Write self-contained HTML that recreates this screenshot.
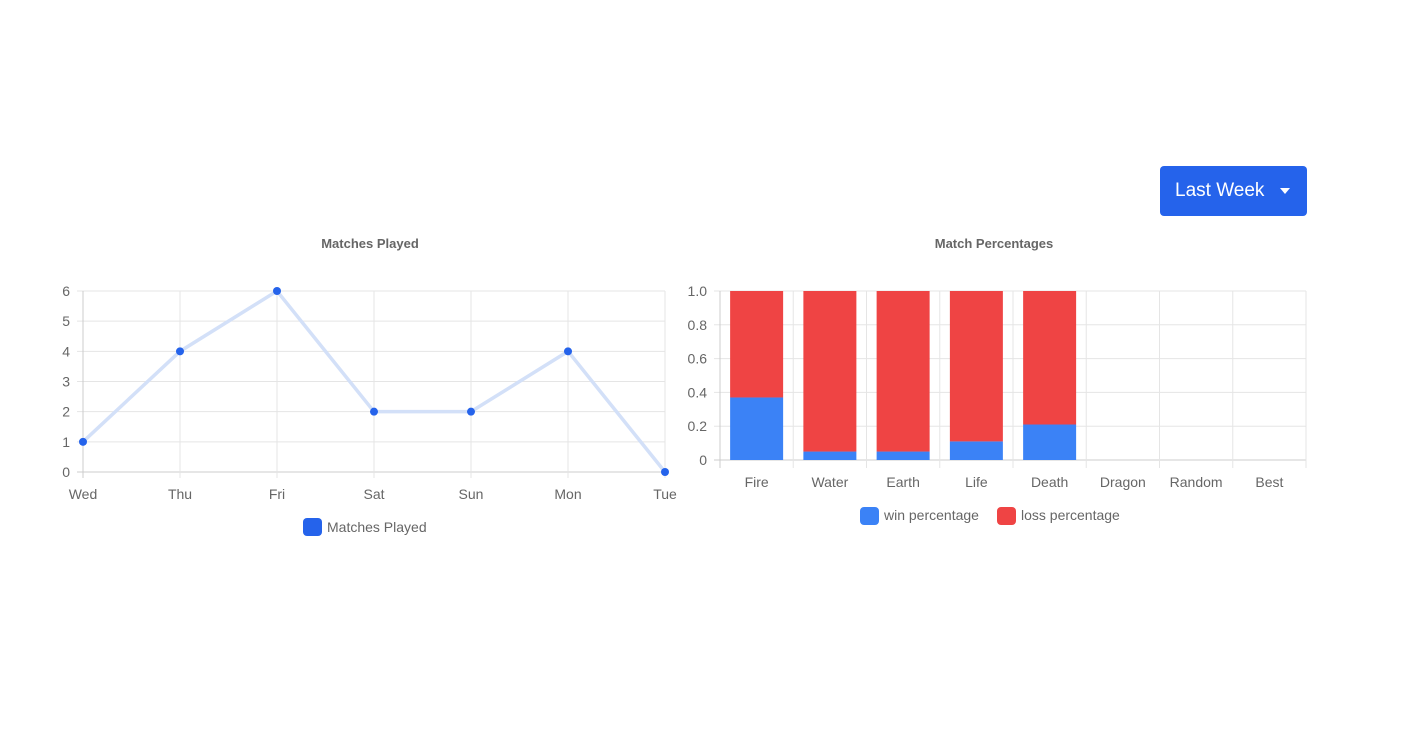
<!DOCTYPE html>
<html><head><meta charset="utf-8"><style>
body{margin:0;width:1420px;height:742px;background:#fff;font-family:"Liberation Sans",sans-serif;position:relative;overflow:hidden}
#btn{position:absolute;left:1160px;top:166px;width:147px;height:50px;background:#2563eb;border-radius:4px;color:#fff;font-size:19px;line-height:50px;box-sizing:border-box;padding-left:15px}
#btn .caret{position:absolute;left:120px;top:22px;width:0;height:0;border-left:5px solid transparent;border-right:5px solid transparent;border-top:6px solid #fff}
svg{position:absolute;left:0;top:0}
</style></head><body>
<div id="btn">Last Week<span class="caret"></span></div>
<svg width="1420" height="742" id="svg"></svg>
<script>
const lineCats=["Wed","Thu","Fri","Sat","Sun","Mon","Tue"];
const lineVals=[1,4,6,2,2,4,0];
const lineTicks=[0,1,2,3,4,5,6];
const barCats=["Fire","Water","Earth","Life","Death","Dragon","Random","Best"];
const winVals=[0.37,0.05,0.05,0.11,0.21,0,0,0];
const lossVals=[0.63,0.95,0.95,0.89,0.79,0,0,0];
const barTicks=[0,0.2,0.4,0.6,0.8,1.0];
const barTickLabels=["0","0.2","0.4","0.6","0.8","1.0"];

const svg=document.getElementById('svg');
const NS="http://www.w3.org/2000/svg";
function mk(t,a,txt){const e=document.createElementNS(NS,t);for(const k in a)e.setAttribute(k,a[k]);if(txt!=null)e.textContent=txt;svg.appendChild(e);return e;}
const grid="#e5e5e5",txtc="#666";

// Line chart
const lx0=83,lx1=665,ly0=472,ly1=291;
const lx=i=>lx0+i*(lx1-lx0)/(lineCats.length-1);
const ly=v=>ly0-v*(ly0-ly1)/6;
let t=mk('text',{x:370,y:248,'text-anchor':'middle','font-size':13,'font-weight':'bold',fill:txtc},'Matches Played');

lineTicks.forEach(v=>{
 let g=mk('line',{x1:lx0-6,x2:lx1,y1:ly(v),y2:ly(v),stroke:v===0?'#ccc':grid});
 
 let l=mk('text',{x:lx0-13,y:ly(v)+5,'text-anchor':'end','font-size':14,fill:txtc},v);
 
});
lineCats.forEach((c,i)=>{
 let g=mk('line',{x1:lx(i),x2:lx(i),y1:ly1,y2:ly0+6,stroke:i===0?'#ccc':grid});
 
 let l=mk('text',{x:lx(i),y:499,'text-anchor':'middle','font-size':14,fill:txtc},c);
 
});
let pl=mk('polyline',{points:lineVals.map((v,i)=>lx(i)+','+ly(v)).join(' '),fill:'none',stroke:'#d3e0f8','stroke-width':3.5});

lineVals.forEach((v,i)=>{
 let p=mk('circle',{cx:lx(i),cy:ly(v),r:4,fill:'#2563eb'});
 
});
let lg=mk('rect',{x:303,y:518,width:19,height:18,rx:4,fill:'#2563eb'});

t=mk('text',{x:327,y:532,'font-size':14,fill:txtc},'Matches Played');


// Bar chart
const bx0=720,bx1=1306,by0=460,by1=291;
const bw=(bx1-bx0)/barCats.length;
const by=v=>by0-v*(by0-by1);
t=mk('text',{x:994,y:248,'text-anchor':'middle','font-size':13,'font-weight':'bold',fill:txtc},'Match Percentages');

barTicks.forEach((v,i)=>{
 let g=mk('line',{x1:bx0-6,x2:bx1,y1:by(v),y2:by(v),stroke:v===0?'#ccc':grid});
 
 let l=mk('text',{x:bx0-13,y:by(v)+5,'text-anchor':'end','font-size':14,fill:txtc},barTickLabels[i]);
 
});
for(let i=0;i<=barCats.length;i++){
 let g=mk('line',{x1:bx0+i*bw,x2:bx0+i*bw,y1:by1,y2:by0+8,stroke:i===0?'#ccc':grid});
 
}
barCats.forEach((c,i)=>{
 const cx=bx0+(i+0.5)*bw, w=53;
 if(winVals[i]>0){
  let r=mk('rect',{x:cx-w/2,y:by(winVals[i]),width:w,height:by0-by(winVals[i]),fill:'#3b82f6'});
  
 }
 if(lossVals[i]>0){
  let r=mk('rect',{x:cx-w/2,y:by(winVals[i]+lossVals[i]),width:w,height:by(winVals[i])-by(winVals[i]+lossVals[i]),fill:'#ef4444'});
  
 }
 let l=mk('text',{x:cx,y:487,'text-anchor':'middle','font-size':14,fill:txtc},c);
 
});
lg=mk('rect',{x:860,y:507,width:19,height:18,rx:4,fill:'#3b82f6'});

t=mk('text',{x:884,y:520,'font-size':14,fill:txtc},'win percentage');

lg=mk('rect',{x:997,y:507,width:19,height:18,rx:4,fill:'#ef4444'});

t=mk('text',{x:1021,y:520,'font-size':14,fill:txtc},'loss percentage');

</script>
</body></html>
